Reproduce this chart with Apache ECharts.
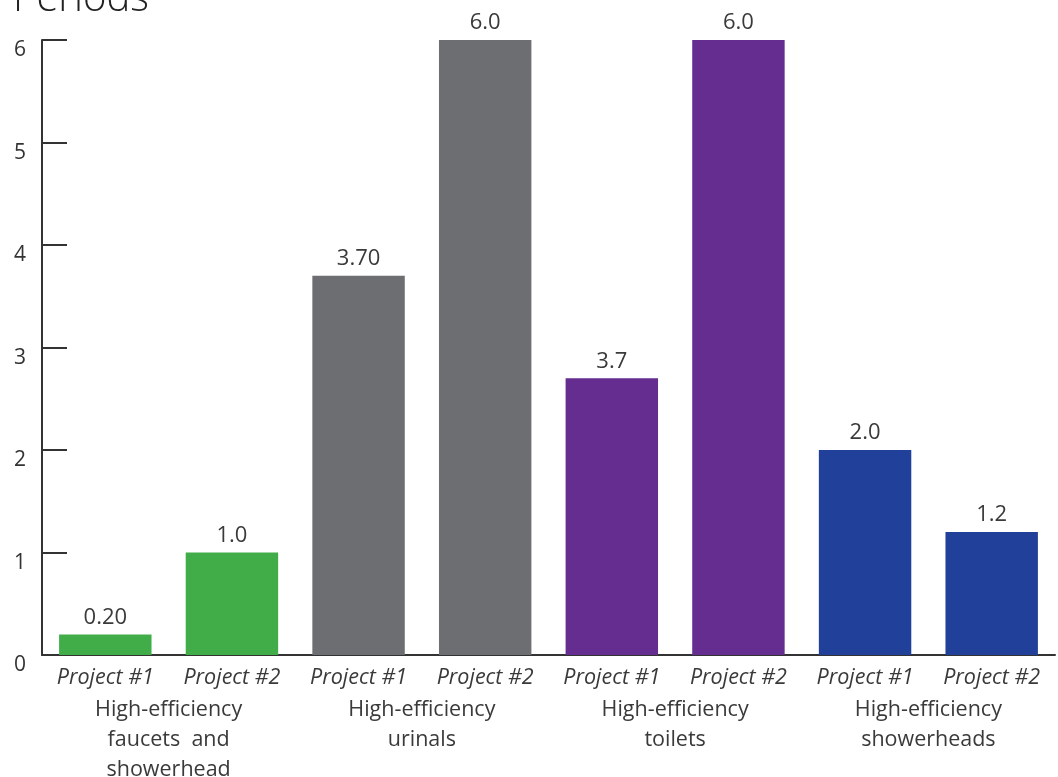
<!DOCTYPE html>
<html>
<head>
<meta charset="utf-8">
<script src="https://cdn.jsdelivr.net/npm/echarts@6/dist/echarts.min.js"></script>
<style>
  html, body { margin: 0; padding: 0; background: #fff; }
  #bars { width: 1058px; height: 777px; }
</style>
</head>
<body>
<div id="bars"></div>
<script>
// bar categories (one per bar) and the fixture groups beneath them
const projects = ['Project #1', 'Project #2', 'Project #1', 'Project #2', 'Project #1', 'Project #2', 'Project #1', 'Project #2']
const groups = ['High-efficiency\nfaucets  and\nshowerhead', 'High-efficiency\nurinals', 'High-efficiency\ntoilets', 'High-efficiency\nshowerheads']
// bar heights as drawn, and the labels printed above them
const periods = [0.2, 1.0, 3.7, 6.0, 2.7, 6.0, 2.0, 1.2]
const periodLabels = ['0.20', '1.0', '3.70', '6.0', '3.7', '6.0', '2.0', '1.2']
const barColors = ['#41ad49', '#41ad49', '#6d6e71', '#6d6e71', '#662d91', '#662d91', '#21409a', '#21409a']
const yTicks = [0, 1, 2, 3, 4, 5, 6]

const myChart = echarts.init(document.getElementById('bars'))
const font = '"Open Sans", "Noto Sans", sans-serif'
const option = {
  animation: false,
  title: {
    text: 'Periods',
    left: 8,
    top: -25,
    textStyle: { fontFamily: font, fontSize: 40, fontWeight: 300, color: '#222' },
  },
  grid: { left: 42, right: 3, top: 40, bottom: 122, containLabel: false, outerBoundsMode: 'none' },
  xAxis: [
    {
      type: 'category',
      data: projects,
      axisLine: { lineStyle: { color: '#333', width: 2 } },
      axisTick: { inside: true, length: 15, lineStyle: { color: '#333', width: 2 } },
      axisLabel: { margin: 12, fontFamily: font, fontSize: 21.5, fontStyle: 'italic', color: '#3a3a3a', interval: 0 },
    },
    {
      type: 'category',
      data: groups,
      position: 'bottom',
      axisLine: { show: false },
      axisTick: { show: false },
      axisLabel: { margin: 40, fontFamily: font, fontSize: 21.5, lineHeight: 30, color: '#3a3a3a', interval: 0 },
    },
  ],
  yAxis: {
    type: 'value',
    min: yTicks[0],
    max: yTicks[yTicks.length - 1],
    interval: 1,
    splitLine: { show: false },
    axisLine: { show: true, lineStyle: { color: '#333', width: 2 } },
    axisTick: { show: true, inside: true, length: 25, lineStyle: { color: '#333', width: 2 } },
    axisLabel: { margin: 16, verticalAlign: 'top', fontFamily: font, fontSize: 21, color: '#333' },
  },
  series: [
    {
      type: 'bar',
      barWidth: '73%',
      data: periods.map((v, i) => ({ value: v, itemStyle: { color: barColors[i] } })),
      label: {
        show: true,
        position: 'top',
        distance: 6,
        fontFamily: font,
        fontSize: 22,
        color: '#3a3a3a',
        formatter: (p) => periodLabels[p.dataIndex],
      },
    },
  ],
}
myChart.setOption(option)
</script>
</body>
</html>
